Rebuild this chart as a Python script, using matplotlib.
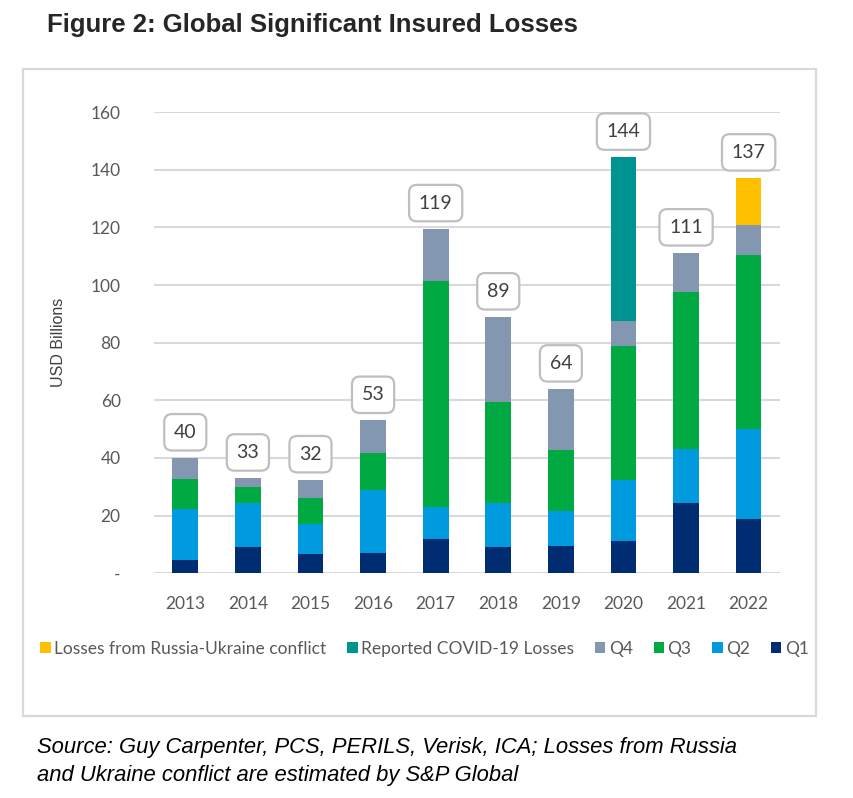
import matplotlib.pyplot as plt
import matplotlib.patches as mpatches
import numpy as np

years = ["2013", "2014", "2015", "2016", "2017", "2018", "2019", "2020", "2021", "2022"]
q1 = [4.6, 9.2, 6.6, 6.9, 12.0, 9.2, 9.6, 11.3, 24.3, 18.7]
q2 = [17.6, 15.2, 10.4, 22.0, 10.9, 15.1, 11.9, 21.1, 18.7, 31.2]
q3 = [10.6, 5.6, 9.2, 12.9, 78.6, 35.0, 21.4, 46.5, 54.6, 60.6]
q4 = [7.2, 3.0, 6.2, 11.2, 18.0, 29.6, 21.0, 8.6, 13.5, 10.2]
covid = [0, 0, 0, 0, 0, 0, 0, 56.8, 0, 0]
russia = [0, 0, 0, 0, 0, 0, 0, 0, 0, 16.4]
totals = [40, 33, 32, 53, 119, 89, 64, 144, 111, 137]

series = [
    ("Q1", q1, "#002D72"),
    ("Q2", q2, "#009ADE"),
    ("Q3", q3, "#00A941"),
    ("Q4", q4, "#8497B0"),
    ("Reported COVID-19 Losses", covid, "#009490"),
    ("Losses from Russia-Ukraine conflict", russia, "#FFC000"),
]

plt.rcParams['font.family'] = ['Lato', 'DejaVu Sans']

fig = plt.figure(figsize=(8.54, 7.98), dpi=100)
ax = fig.add_axes([0.1803, 0.2816, 0.7330, 0.5780])

# outer frame
fig.patches.append(mpatches.Rectangle((23.5 / 854, 1 - 716 / 798), (816 - 23.5) / 854, (716 - 69) / 798,
                                      transform=fig.transFigure, fill=False,
                                      edgecolor="#d9d9d9", linewidth=1.6))

x = np.arange(len(years))
bottom = np.zeros(len(years))
handles = {}
for name, vals, col in series:
    vals = np.array(vals)
    b = ax.bar(x, vals, 0.41, bottom=bottom, color=col, label=name, zorder=3)
    handles[name] = b
    bottom += vals

for i, t in enumerate(totals):
    ax.annotate(str(t), (x[i], bottom[i]), xytext=(0, 18.5), textcoords="offset points",
                ha="center", va="center", fontsize=14, color="#404040",
                bbox=dict(boxstyle="round,pad=0.5,rounding_size=0.4", fc="white",
                          ec="#bfbfbf", lw=1.6), zorder=5)

ax.set_xlim(-0.5, 9.5)
ax.set_ylim(0, 160)
ax.set_yticks(range(0, 161, 20))
ax.set_yticklabels(["-"] + [str(v) for v in range(20, 161, 20)])
ax.set_xticks(x)
ax.set_xticklabels(years)
ax.tick_params(axis="both", length=0, labelsize=12.5, colors="#595959")
ax.tick_params(axis="y", pad=24)
ax.tick_params(axis="x", pad=16)
ax.grid(axis="y", color="#d9d9d9", linewidth=1.5, zorder=0)
for s in ax.spines.values():
    s.set_visible(False)

ax.set_ylabel("USD Billions", family=["Liberation Sans", "DejaVu Sans"], fontsize=11.5,
              color="#404040")
ax.yaxis.set_label_coords(-0.14, 0.5)

order = ["Losses from Russia-Ukraine conflict", "Reported COVID-19 Losses", "Q4", "Q3", "Q2", "Q1"]
fig.legend([handles[n] for n in order], order, loc="center", bbox_to_anchor=(0.497, 1 - 649 / 798),
           ncol=6, frameon=False, fontsize=12.5, labelcolor="#595959",
           handlelength=0.6, handleheight=0.6, handletextpad=0.2, columnspacing=1.2)

fig.text(47 / 854, 1 - 25 / 798, "Figure 2: Global Significant Insured Losses",
         family=["Liberation Sans", "DejaVu Sans"], fontsize=18.5, fontweight="bold",
         color="#262626", va="center", ha="left")
fig.text(37 / 854, 1 - 753 / 798, "Source: Guy Carpenter, PCS, PERILS, Verisk, ICA; Losses from Russia",
         family=["Liberation Sans", "DejaVu Sans"], fontsize=15.8, style="italic",
         color="black", va="baseline", ha="left")
fig.text(37 / 854, 1 - 781 / 798, "and Ukraine conflict are estimated by S&P Global",
         family=["Liberation Sans", "DejaVu Sans"], fontsize=15.8, style="italic",
         color="black", va="baseline", ha="left")

fig.savefig("out.png", dpi=100)
